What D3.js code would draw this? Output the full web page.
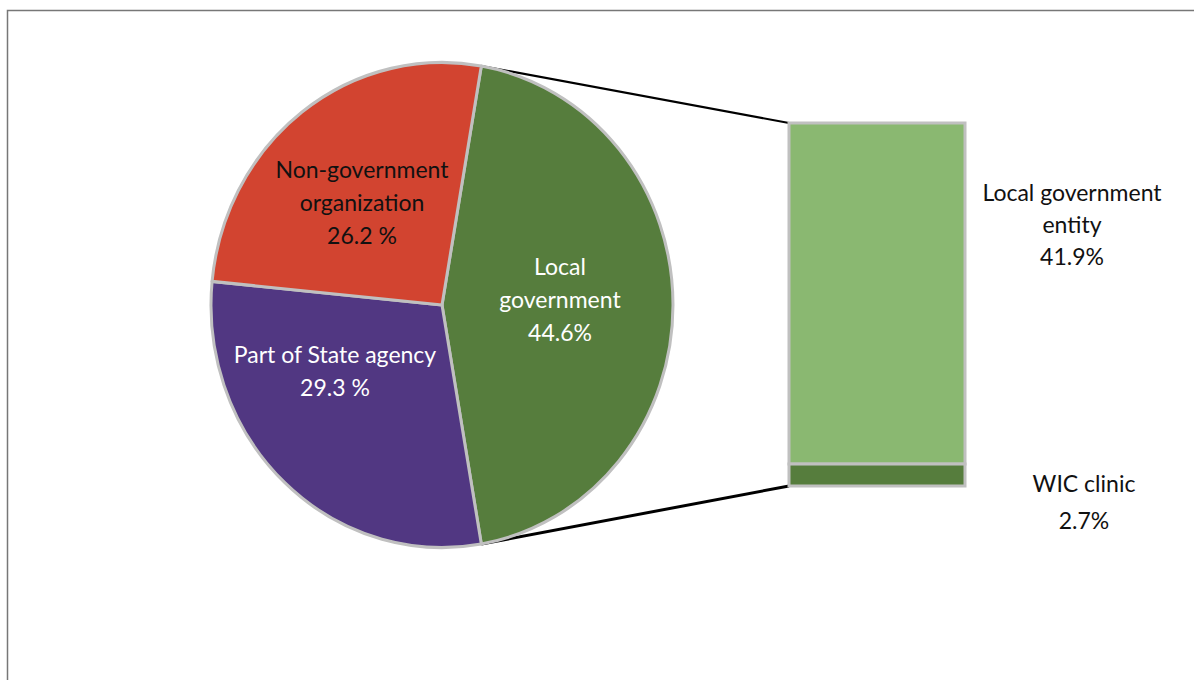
<!DOCTYPE html>
<html>
<head>
<meta charset="utf-8">
<script src="https://cdn.jsdelivr.net/npm/d3@7"></script>
<style>
  html, body { margin: 0; padding: 0; background: #fff; }
  svg { display: block; font-family: Lato, "Open Sans", sans-serif; }
</style>
</head>
<body>
<svg id="chart" width="1194" height="680"></svg>
<script>
// Pie slices (clockwise from the split slice)
const pieCategories = ["Local government", "Part of State agency", "Non-government organization"];
const pieValues = [44.6, 29.3, 26.2];
const pieColors = ["#567d3d", "#513782", "#d24430"];
const pieLabelLines = [
  ["Local", "government", "44.6%"],
  ["Part of State agency", "29.3 %"],
  ["Non-government", "organization", "26.2 %"]
];
const pieLabelColors = ["#ffffff", "#ffffff", "#111111"];

// Breakdown of the split slice, drawn as a stacked bar (top to bottom)
const barCategories = ["Local government entity", "WIC clinic"];
const barValues = [41.9, 2.7];
const barColors = ["#8ab871", "#567d3d"];
const barLabelLines = [
  ["Local government", "entity", "41.9%"],
  ["WIC clinic", "2.7%"]
];

const svg = d3.select("#chart");

// chart area frame
svg.append("path")
  .attr("d", "M7.5,690 L7.5,10.5 L1200,10.5")
  .attr("fill", "none")
  .attr("stroke", "#777")
  .attr("stroke-width", 1.5);

// ---- pie geometry ----
const cx = 442, cy = 305, r = 231, yStretch = 1.05;
const total = d3.sum(pieValues);
const splitAngle = pieValues[0] / total * 2 * Math.PI;
const pie = d3.pie().sort(null).value(d => d)
  .startAngle(Math.PI / 2 - splitAngle / 2)
  .endAngle(Math.PI / 2 - splitAngle / 2 + 2 * Math.PI);
const arcs = pie(pieValues);
const arc = d3.arc().innerRadius(0).outerRadius(r);

const edgePoint = a => [cx + r * Math.sin(a), cy - r * Math.cos(a) * yStretch];

// ---- bar geometry ----
const barX = 789, barW = 176, barTop = 123, barBottom = 486;
const barSum = d3.sum(barValues);
const yBar = d3.scaleLinear().domain([0, barSum]).range([barTop, barBottom]);
const stacked = [];
let acc = 0;
barValues.forEach((v, i) => { stacked.push({ i, y0: acc, y1: acc + v }); acc += v; });

// connector lines from the split slice to the bar
const pTop = edgePoint(arcs[0].startAngle);
const pBot = edgePoint(arcs[0].endAngle);
svg.append("g").selectAll("line")
  .data([[pTop, [barX, yBar(0)], 2.2], [pBot, [barX, yBar(barSum)], 3]])
  .join("line")
  .attr("x1", d => d[0][0]).attr("y1", d => d[0][1])
  .attr("x2", d => d[1][0]).attr("y2", d => d[1][1])
  .attr("stroke", "#000")
  .attr("stroke-width", d => d[2]);

// pie slices
const pieG = svg.append("g")
  .attr("transform", `translate(${cx},${cy}) scale(1,${yStretch})`);
pieG.selectAll("path")
  .data(arcs)
  .join("path")
  .attr("d", arc)
  .attr("fill", (d, i) => pieColors[i])
  .attr("stroke", "#c0c0c0")
  .attr("stroke-width", 3)
  .attr("stroke-linejoin", "round");

// pie labels
const labelPos = [
  [cx + 118, cy - 5],
  [cx - 107, cy + 66],
  [cx - 80, cy - 102]
];
const lineH = 33;
const labelG = svg.append("g");
pieLabelLines.forEach((lines, i) => {
  const t = labelG.append("text")
    .attr("text-anchor", "middle")
    .attr("font-size", 23)
    .attr("fill", pieLabelColors[i]);
  const y0 = labelPos[i][1] - (lines.length - 1) * lineH / 2;
  lines.forEach((ln, k) => {
    t.append("tspan")
      .attr("x", labelPos[i][0])
      .attr("y", y0 + k * lineH)
      .attr("dy", "0.35em")
      .text(ln);
  });
});

// stacked bar
svg.append("g").selectAll("rect")
  .data(stacked)
  .join("rect")
  .attr("x", barX)
  .attr("y", d => yBar(d.y0))
  .attr("width", barW)
  .attr("height", d => yBar(d.y1) - yBar(d.y0))
  .attr("fill", d => barColors[d.i])
  .attr("stroke", "#c0c0c0")
  .attr("stroke-width", 3);

// bar labels
const barLabelAnchors = [
  [1072, yBar(stacked[0].y0) + 70],
  [1084, yBar(stacked[1].y0) + 20]
];
const barLineH = [32, 37];
barLabelLines.forEach((lines, i) => {
  const t = svg.append("text")
    .attr("text-anchor", "middle")
    .attr("font-size", 23)
    .attr("fill", "#111");
  lines.forEach((ln, k) => {
    t.append("tspan")
      .attr("x", barLabelAnchors[i][0])
      .attr("y", barLabelAnchors[i][1] + k * barLineH[i])
      .attr("dy", "0.35em")
      .text(ln);
  });
});
</script>
</body>
</html>
